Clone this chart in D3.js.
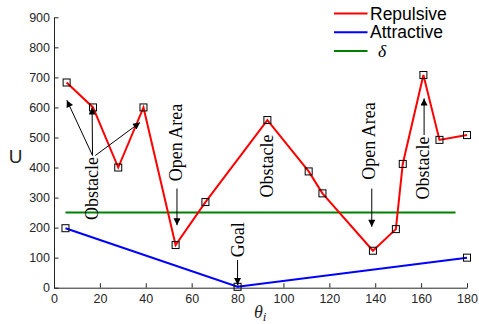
<!DOCTYPE html>
<html>
<head>
<meta charset="utf-8">
<script src="https://cdn.jsdelivr.net/npm/d3@7"></script>
<style>
  body { margin: 0; background: #fff; }
  .tick text { font-family: "Liberation Sans", Arial, sans-serif; font-size: 12.5px; fill: #262626; }
  .ann { font-family: "Liberation Serif", "Times New Roman", serif; font-size: 18px; fill: #000; }
</style>
</head>
<body>
<div id="chart"></div>
<script>
var svgWidth = 479;
var svgHeight = 324;

// repulsive potential
var repX = [5.5, 17, 28, 39, 53, 66, 93, 111, 117, 139, 149, 152, 161, 168, 180];
var repY = [683, 600, 400, 600, 142, 285, 558, 387, 314, 123, 195, 412, 708, 492, 508];

// attractive potential
var attX = [5, 80, 180];
var attY = [198, 3, 100];

// threshold delta
var deltaX = [5, 175];
var deltaY = [250, 250];

var xTicks = [0, 20, 40, 60, 80, 100, 120, 140, 160, 180];
var yTicks = [0, 100, 200, 300, 400, 500, 600, 700, 800, 900];

var seriesNames = ["Repulsive", "Attractive", "\u03b4"];
var seriesColors = ["#ff0000", "#0000ff", "#008000"];

// annotation labels [x, y] in data units (centre of text)
var labelText = ["Obstacle", "Open Area", "Obstacle", "Goal", "Open Area", "Obstacle"];
var labelX = [16.4, 53.3, 92.7, 80.3, 137.2, 161];
var labelY = [330, 483, 405, 160, 488, 398];

// arrows [x1, y1, x2, y2] in data units
var arrows = [
  [16.8, 440, 5.6, 624],
  [16.8, 440, 16.6, 600],
  [18, 440, 37.5, 550],
  [53.6, 330, 53.6, 208],
  [80, 92, 80, 9],
  [138.5, 330, 138.5, 203],
  [161.3, 508, 161.3, 630]
];

var svg = d3.select("#chart")
  .append("svg")
  .attr("width", svgWidth)
  .attr("height", svgHeight);

var xScale = d3.scaleLinear().domain([0, 180]).range([54, 467]);
var yScale = d3.scaleLinear().domain([0, 900]).range([287.7, 17.3]);

// arrow head
svg.append("defs").append("marker")
  .attr("id", "head")
  .attr("markerUnits", "userSpaceOnUse")
  .attr("viewBox", "0 0 10 10")
  .attr("refX", 10)
  .attr("refY", 5)
  .attr("markerWidth", 9)
  .attr("markerHeight", 7)
  .attr("orient", "auto")
  .append("path")
  .attr("d", "M0,0L10,5L0,10Z")
  .attr("fill", "#000");

// axes
var xAxis = d3.axisBottom(xScale).tickValues(xTicks).tickSizeInner(-4.5).tickSizeOuter(0).tickPadding(6);
var yAxis = d3.axisLeft(yScale).tickValues(yTicks).tickSizeInner(-4.5).tickSizeOuter(0).tickPadding(4);

var gx = svg.append("g")
  .attr("transform", "translate(0," + yScale(0) + ")")
  .call(xAxis);
var gy = svg.append("g")
  .attr("transform", "translate(" + xScale(0) + ",0)")
  .call(yAxis);

[gx, gy].forEach(function(g) {
  g.select(".domain").attr("stroke", "#262626");
  g.selectAll(".tick line").attr("stroke", "#262626");
});

var line = d3.line()
  .x(d => xScale(d[0]))
  .y(d => yScale(d[1]));

// delta line
svg.append("path")
  .datum(d3.zip(deltaX, deltaY))
  .attr("d", line)
  .attr("fill", "none")
  .attr("stroke", seriesColors[2])
  .attr("stroke-width", 2);

// attractive
svg.append("path")
  .datum(d3.zip(attX, attY))
  .attr("d", line)
  .attr("fill", "none")
  .attr("stroke", seriesColors[1])
  .attr("stroke-width", 2);

// repulsive
svg.append("path")
  .datum(d3.zip(repX, repY))
  .attr("d", line)
  .attr("fill", "none")
  .attr("stroke", seriesColors[0])
  .attr("stroke-width", 2);

// square markers
var pts = d3.zip(repX, repY).concat(d3.zip(attX, attY));
svg.selectAll(".mk")
  .data(pts)
  .enter()
  .append("rect")
  .attr("class", "mk")
  .attr("x", d => xScale(d[0]) - 3.5)
  .attr("y", d => yScale(d[1]) - 3.5)
  .attr("width", 7)
  .attr("height", 7)
  .attr("fill", "none")
  .attr("stroke", "#000")
  .attr("stroke-width", 1);

// annotation arrows
svg.selectAll(".arr")
  .data(arrows)
  .enter()
  .append("line")
  .attr("class", "arr")
  .attr("x1", d => xScale(d[0]))
  .attr("y1", d => yScale(d[1]))
  .attr("x2", d => xScale(d[2]))
  .attr("y2", d => yScale(d[3]))
  .attr("stroke", "#000")
  .attr("stroke-width", 1)
  .attr("marker-end", "url(#head)");

// annotation labels
svg.selectAll(".ann")
  .data(labelText)
  .enter()
  .append("text")
  .attr("class", "ann")
  .attr("transform", (d, i) => "translate(" + xScale(labelX[i]) + "," + yScale(labelY[i]) + ") rotate(-90)")
  .attr("text-anchor", "middle")
  .attr("dy", "0.33em")
  .text(d => d);

// legend
var leg = svg.append("g").attr("transform", "translate(334,13.5)");
seriesNames.forEach(function(name, i) {
  var row = leg.append("g").attr("transform", "translate(0," + (i * 18.7) + ")");
  row.append("line")
    .attr("x1", 0).attr("x2", 33.5)
    .attr("y1", 0).attr("y2", 0)
    .attr("stroke", seriesColors[i])
    .attr("stroke-width", 2);
  var t = row.append("text")
    .attr("x", i == 2 ? 44 : 36)
    .attr("y", 0)
    .attr("dy", "0.35em")
    .text(name);
  if (i == 2) {
    t.style("font-family", "'Liberation Serif', serif").style("font-style", "italic").style("font-size", "17.5px");
  } else {
    t.style("font-family", "'Liberation Sans', Arial, sans-serif").style("font-size", "17.5px");
  }
});

// axis labels
svg.append("text")
  .attr("x", 15.5)
  .attr("y", 156)
  .attr("dy", "0.35em")
  .attr("text-anchor", "middle")
  .style("font-family", "'Liberation Sans', Arial, sans-serif")
  .style("font-size", "19px")
  .style("fill", "#262626")
  .text("U");

var xl = svg.append("text")
  .attr("x", 254)
  .attr("y", 318)
  .style("font-family", "'Liberation Serif', serif")
  .style("font-style", "italic")
  .style("font-size", "18px")
  .style("fill", "#262626");
xl.append("tspan").text("\u03b8");
xl.append("tspan").attr("dy", 3).style("font-size", "13px").text("i");
</script>
</body>
</html>
